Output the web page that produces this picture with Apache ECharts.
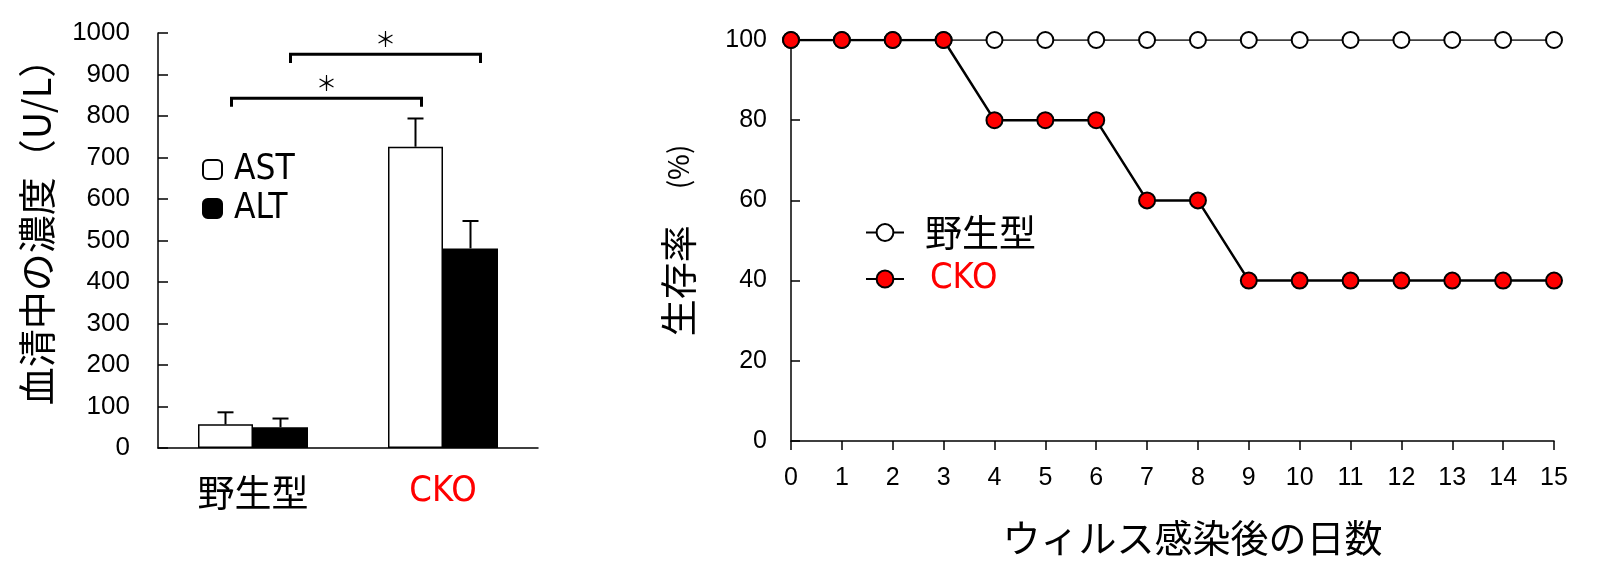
<!DOCTYPE html>
<html><head><meta charset="utf-8">
<script src="https://cdn.jsdelivr.net/npm/echarts@6/dist/echarts.min.js"></script>
<style>html,body{margin:0;padding:0;background:#fff}#c{width:1600px;height:576px}</style>
</head><body><div id="c"></div>
<script>
// ---- data ----
const groups = ['野生型', 'CKO'];
const astMean = [57, 726];
const astErr = [29, 68];
const altMean = [50, 481];
const altErr = [21, 66];
// significance brackets: compared series and bracket level (U/L)
const bracketSeries = ['AST', 'ALT'];
const bracketLevel = [843, 949];
const bracketLabel = ['＊', '＊'];

const days = [0, 1, 2, 3, 4, 5, 6, 7, 8, 9, 10, 11, 12, 13, 14, 15];
const survivalWT = [100, 100, 100, 100, 100, 100, 100, 100, 100, 100, 100, 100, 100, 100, 100, 100];
const survivalCKO = [100, 100, 100, 100, 80, 80, 80, 60, 60, 40, 40, 40, 40, 40, 40, 40];
const barTicks = [0, 100, 200, 300, 400, 500, 600, 700, 800, 900, 1000];
const survTicks = [0, 20, 40, 60, 80, 100];

const BAR_W = 55;
const NUM_FONT = 'Liberation Sans';
const JP_FONT = 'Noto Sans CJK JP';
const NARROW = '"Liberation Sans Narrow", "DejaVu Sans Condensed", "Noto Sans CJK JP"';
const offsets = { AST: -BAR_W / 2, ALT: BAR_W / 2 };
const bracketShift = { AST: 6, ALT: 10 };

const chart = echarts.init(document.getElementById('c'));

function errRender(name, means, errs) {
  return function (params, api) {
    const i = params.dataIndex;
    const base = api.coord([i, means[i]]);
    const top = api.coord([i, means[i] + errs[i]]);
    const x = base[0] + offsets[name];
    const style = { stroke: '#000', lineWidth: 2 };
    return {
      type: 'group',
      children: [
        { type: 'line', shape: { x1: x, y1: base[1], x2: x, y2: top[1] }, style },
        { type: 'line', shape: { x1: x - 8, y1: top[1], x2: x + 8, y2: top[1] }, style }
      ]
    };
  };
}

function bracketRender(params, api) {
  const i = params.dataIndex;
  const name = bracketSeries[i];
  const lvl = bracketLevel[i];
  const a = api.coord([0, lvl]);
  const b = api.coord([1, lvl]);
  const drop = api.coord([0, lvl - 21])[1];
  const x1 = a[0] + offsets[name] + bracketShift[name];
  const x2 = b[0] + offsets[name] + bracketShift[name];
  const y = a[1];
  const style = { stroke: '#000', lineWidth: 3, fill: null };
  return {
    type: 'group',
    children: [
      { type: 'polyline', shape: { points: [[x1, drop], [x1, y], [x2, y], [x2, drop]] }, style },
      { type: 'text', style: { text: bracketLabel[i], x: (x1 + x2) / 2, y: y - 15, align: 'center', verticalAlign: 'middle', font: '21px "' + JP_FONT + '"', fill: '#000' } }
    ]
  };
}

const option = {
  animation: false,
  backgroundColor: '#fff',
  grid: [
    { left: 158, top: 33, width: 380, height: 415 },
    { left: 791, top: 40, width: 763, height: 401 }
  ],
  legend: [
    {
      left: 202, top: 152, padding: 0, orient: 'vertical', itemWidth: 19, itemHeight: 19, itemGap: 4,
      data: ['AST', 'ALT'],
      textStyle: { fontFamily: NARROW, fontSize: 35, lineHeight: 30, color: '#000', padding: [0, 0, 0, 7] }
    },
    {
      left: 865, top: 214, padding: 0, orient: 'vertical', itemWidth: 38, itemHeight: 21, itemGap: 10,
      data: [
        { name: '野生型', textStyle: { color: '#000', fontFamily: JP_FONT, fontSize: 37, padding: [0, 0, 0, 16] } },
        { name: 'CKO', textStyle: { color: '#ff0000', fontFamily: NARROW, fontSize: 36, padding: [0, 0, 0, 21] } }
      ],
      textStyle: { lineHeight: 32 }
    }
  ],
  xAxis: [
    {
      type: 'category', gridIndex: 0, data: groups,
      axisLine: { lineStyle: { color: '#000', width: 1.5 } },
      axisTick: { show: false },
      axisLabel: {
        margin: 26, fontFamily: JP_FONT, fontSize: 37, color: '#000',
        formatter: v => v === 'CKO' ? '{r|CKO}' : v,
        rich: { r: { color: '#ff0000', fontFamily: NARROW, fontSize: 36 } }
      }
    },
    {
      type: 'value', gridIndex: 1, min: 0, max: 15, interval: 1,
      name: 'ウィルス感染後の日数', nameLocation: 'middle', nameGap: 78,
      nameTextStyle: { fontFamily: JP_FONT, fontSize: 38, color: '#000', padding: [0, 0, 0, 40] },
      axisLine: { lineStyle: { color: '#000', width: 1.5 } },
      axisTick: { show: true, length: 9, lineStyle: { color: '#000', width: 1.5 } },
      axisLabel: { margin: 25, fontFamily: NUM_FONT, fontSize: 25, color: '#000' },
      splitLine: { show: false }
    }
  ],
  yAxis: [
    {
      type: 'value', gridIndex: 0, min: barTicks[0], max: barTicks[barTicks.length - 1], interval: 100,
      name: '血清中の濃度（U/L）', nameLocation: 'middle', nameGap: 102, nameRotate: 90,
      nameTextStyle: { fontFamily: JP_FONT, fontSize: 38, color: '#000', padding: [0, 0, 0, 36] },
      axisLine: { show: true, lineStyle: { color: '#000', width: 1.5 } },
      axisTick: { show: true, inside: true, length: 10, lineStyle: { color: '#000', width: 1.5 } },
      axisLabel: { margin: 28, fontFamily: NUM_FONT, fontSize: 26, color: '#000', formatter: v => String(v) },
      splitLine: { show: false }
    },
    {
      type: 'value', gridIndex: 1, min: survTicks[0], max: survTicks[survTicks.length - 1], interval: 20,
      name: '{a|生存率}{b|(%)}', nameLocation: 'middle', nameGap: 94, nameRotate: 90,
      nameTextStyle: { rich: { a: { fontFamily: JP_FONT, fontSize: 37, color: '#000' }, b: { fontFamily: JP_FONT, fontSize: 28, color: '#000', padding: [0, 0, 0, 36] } } },
      axisLine: { show: true, lineStyle: { color: '#000', width: 1.5 } },
      axisTick: { show: true, inside: true, length: 9, lineStyle: { color: '#000', width: 1.5 } },
      axisLabel: { margin: 24, fontFamily: NUM_FONT, fontSize: 25, color: '#000' },
      splitLine: { show: false }
    }
  ],
  series: [
    {
      name: 'AST', type: 'bar', xAxisIndex: 0, yAxisIndex: 0, data: astMean,
      barWidth: BAR_W, barGap: '0%',
      itemStyle: { color: '#fff', borderColor: '#000', borderWidth: 1.5 }
    },
    {
      name: 'ALT', type: 'bar', xAxisIndex: 0, yAxisIndex: 0, data: altMean,
      barWidth: BAR_W, barGap: '0%',
      itemStyle: { color: '#000', borderColor: '#000', borderWidth: 1.5 }
    },
    {
      type: 'custom', xAxisIndex: 0, yAxisIndex: 0, data: astMean.map((v, i) => [i, v]),
      renderItem: errRender('AST', astMean, astErr), z: 5
    },
    {
      type: 'custom', xAxisIndex: 0, yAxisIndex: 0, data: altMean.map((v, i) => [i, v]),
      renderItem: errRender('ALT', altMean, altErr), z: 1
    },
    {
      type: 'custom', xAxisIndex: 0, yAxisIndex: 0, data: bracketLevel.map((v, i) => [i, v]),
      renderItem: bracketRender, z: 6
    },
    {
      name: '野生型', type: 'line', xAxisIndex: 1, yAxisIndex: 1,
      data: days.map((d, i) => [d, survivalWT[i]]),
      symbol: 'circle', symbolSize: 16,
      lineStyle: { color: '#000', width: 1.5 },
      itemStyle: { color: '#fff', borderColor: '#000', borderWidth: 2 }
    },
    {
      name: 'CKO', type: 'line', xAxisIndex: 1, yAxisIndex: 1,
      data: days.map((d, i) => [d, survivalCKO[i]]),
      symbol: 'circle', symbolSize: 16,
      lineStyle: { color: '#000', width: 2.5 },
      itemStyle: { color: '#ff0000', borderColor: '#000', borderWidth: 2 },
      z: 3
    }
  ]
};
chart.setOption(option);
</script></body></html>
